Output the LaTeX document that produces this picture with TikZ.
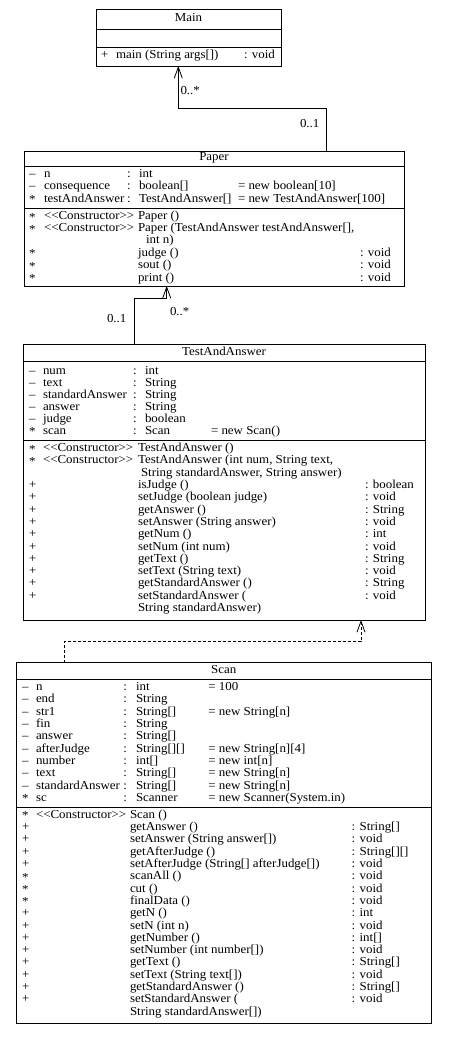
\documentclass[tikz,border=0pt]{standalone}
\usepackage{fontspec}
\setmainfont[FakeStretch=1.06,Ligatures=NoCommon]{Liberation Serif}
\usetikzlibrary{arrows.meta}
\newcounter{tc}
\newcommand\cellt[3]{\stepcounter{tc}\edef\tcname{t\arabic{tc}}\node[txt] (\tcname) at (#1,#2) {#3};}
\newcommand\vpri{–}
\newcommand\vpub{+}
\newcommand\vpkg{\raisebox{-0.25ex}{*}}
\newcommand\ctor{<{}<Constructor>{}>}
\begin{document}
\begin{tikzpicture}[x=1pt,y=-1pt,
  txt/.style={inner sep=0pt,outer sep=0pt,anchor=mid west,font=\fontsize{12.2}{12}\selectfont},
  ttl/.style={txt,anchor=mid},
  cls/.style={draw,line width=0.9pt,inner sep=0pt,outer sep=0pt,anchor=north west},
  sepline/.style={line width=0.9pt},
  assoc/.style={line width=0.8pt,-{Straight Barb[length=11pt,width=8pt,line width=0.8pt]}},
  dep/.style={assoc,dash pattern=on 3pt off 2pt}]
\fill[white] (0,0) rectangle (449,1037);
\useasboundingbox (0,0) rectangle (449,1037);

% ---------- Main ----------
\node[cls,minimum width=185pt,minimum height=57pt] (main) at (96,9) {};
\draw[sepline] (main.west |- 0,29) -- (main.east |- 0,29);
\draw[sepline] (main.west |- 0,47.3) -- (main.east |- 0,47.3);
\node[ttl] (mainT) at (main.north |- 0,19.5) {Main};
\cellt{101}{56}{\vpub}
\cellt{116}{56}{main (String args[])}
\cellt{244}{56}{: void}

% ---------- Paper ----------
\node[cls,minimum width=380pt,minimum height=135pt] (paper) at (24,151) {};
\draw[sepline] (paper.west |- 0,166) -- (paper.east |- 0,166);
\draw[sepline] (paper.west |- 0,208.5) -- (paper.east |- 0,208.5);
\node[ttl] (paperT) at (paper.north |- 0,158.5) {Paper};
\cellt{29}{175}{\vpri}\cellt{44}{175}{n}\cellt{127}{175}{:}\cellt{139}{175}{int}
\cellt{29}{187.5}{\vpri}\cellt{44}{187.5}{consequence}\cellt{127}{187.5}{:}\cellt{139}{187.5}{boolean[]}\cellt{238}{187.5}{= new boolean[10]}
\cellt{29}{200}{\vpkg}\cellt{44}{200}{testAndAnswer}\cellt{127}{200}{:}\cellt{139}{200}{TestAndAnswer[]}\cellt{238}{200}{= new TestAndAnswer[100]}
\cellt{29}{217.5}{\vpkg}\cellt{44}{217.5}{\ctor}\cellt{138}{217.5}{Paper ()}
\cellt{29}{229.5}{\vpkg}\cellt{44}{229.5}{\ctor}\cellt{138}{229.5}{Paper (TestAndAnswer testAndAnswer[],}
\cellt{146}{241.5}{int n)}
\cellt{29}{254}{\vpkg}\cellt{138}{254}{judge ()}\cellt{360}{254}{: void}
\cellt{29}{266.5}{\vpkg}\cellt{138}{266.5}{sout ()}\cellt{360}{266.5}{: void}
\cellt{29}{279}{\vpkg}\cellt{138}{279}{print ()}\cellt{360}{279}{: void}

% ---------- TestAndAnswer ----------
\node[cls,minimum width=402pt,minimum height=276pt] (taa) at (23,344) {};
\draw[sepline] (taa.west |- 0,361.5) -- (taa.east |- 0,361.5);
\draw[sepline] (taa.west |- 0,440.5) -- (taa.east |- 0,440.5);
\node[ttl] (taaT) at (taa.north |- 0,353) {TestAndAnswer};
\cellt{29}{371.7}{\vpri}\cellt{43}{371.7}{num}\cellt{133}{371.7}{:}\cellt{145}{371.7}{int}
\cellt{29}{383.8}{\vpri}\cellt{43}{383.8}{text}\cellt{133}{383.8}{:}\cellt{145}{383.8}{String}
\cellt{29}{395.8}{\vpri}\cellt{43}{395.8}{standardAnswer}\cellt{133}{395.8}{:}\cellt{145}{395.8}{String}
\cellt{29}{407.9}{\vpri}\cellt{43}{407.9}{answer}\cellt{133}{407.9}{:}\cellt{145}{407.9}{String}
\cellt{29}{419.9}{\vpri}\cellt{43}{419.9}{judge}\cellt{133}{419.9}{:}\cellt{145}{419.9}{boolean}
\cellt{29}{432}{\vpkg}\cellt{43}{432}{scan}\cellt{133}{432}{:}\cellt{145}{432}{Scan}\cellt{211}{432}{= new Scan()}
\cellt{29}{449.3}{\vpkg}\cellt{43}{449.3}{\ctor}\cellt{138}{449.3}{TestAndAnswer ()}
\cellt{29}{461.6}{\vpkg}\cellt{43}{461.6}{\ctor}\cellt{138}{461.6}{TestAndAnswer (int num, String text,}
\cellt{141}{473.9}{String standardAnswer, String answer)}
\cellt{29}{486.2}{\vpub}\cellt{138}{486.2}{isJudge ()}\cellt{365}{486.2}{: boolean}
\cellt{29}{498.5}{\vpub}\cellt{138}{498.5}{setJudge (boolean judge)}\cellt{365}{498.5}{: void}
\cellt{29}{510.8}{\vpub}\cellt{138}{510.8}{getAnswer ()}\cellt{365}{510.8}{: String}
\cellt{29}{523.1}{\vpub}\cellt{138}{523.1}{setAnswer (String answer)}\cellt{365}{523.1}{: void}
\cellt{29}{535.4}{\vpub}\cellt{138}{535.4}{getNum ()}\cellt{365}{535.4}{: int}
\cellt{29}{547.7}{\vpub}\cellt{138}{547.7}{setNum (int num)}\cellt{365}{547.7}{: void}
\cellt{29}{560}{\vpub}\cellt{138}{560}{getText ()}\cellt{365}{560}{: String}
\cellt{29}{572.3}{\vpub}\cellt{138}{572.3}{setText (String text)}\cellt{365}{572.3}{: void}
\cellt{29}{584.6}{\vpub}\cellt{138}{584.6}{getStandardAnswer ()}\cellt{365}{584.6}{: String}
\cellt{29}{596.9}{\vpub}\cellt{138}{596.9}{setStandardAnswer (}\cellt{365}{596.9}{: void}
\cellt{138}{609.2}{String standardAnswer)}

% ---------- Scan ----------
\node[cls,minimum width=415.5pt,minimum height=361pt] (scan) at (16,662.5) {};
\draw[sepline] (scan.west |- 0,679) -- (scan.east |- 0,679);
\draw[sepline] (scan.west |- 0,807.5) -- (scan.east |- 0,807.5);
\node[ttl] (scanT) at (scan.north |- 0,671) {Scan};
\cellt{22}{688.3}{\vpri}\cellt{36}{688.3}{n}\cellt{123.3}{688.3}{:}\cellt{136}{688.3}{int}\cellt{208.3}{688.3}{= 100}
\cellt{22}{700.6}{\vpri}\cellt{36}{700.6}{end}\cellt{123.3}{700.6}{:}\cellt{136}{700.6}{String}
\cellt{22}{712.9}{\vpri}\cellt{36}{712.9}{str1}\cellt{123.3}{712.9}{:}\cellt{136}{712.9}{String[]}\cellt{208.3}{712.9}{= new String[n]}
\cellt{22}{725.2}{\vpri}\cellt{36}{725.2}{fin}\cellt{123.3}{725.2}{:}\cellt{136}{725.2}{String}
\cellt{22}{737.5}{\vpri}\cellt{36}{737.5}{answer}\cellt{123.3}{737.5}{:}\cellt{136}{737.5}{String[]}
\cellt{22}{749.8}{\vpri}\cellt{36}{749.8}{afterJudge}\cellt{123.3}{749.8}{:}\cellt{136}{749.8}{String[][]}\cellt{208.3}{749.8}{= new String[n][4]}
\cellt{22}{762.1}{\vpri}\cellt{36}{762.1}{number}\cellt{123.3}{762.1}{:}\cellt{136}{762.1}{int[]}\cellt{208.3}{762.1}{= new int[n]}
\cellt{22}{774.4}{\vpri}\cellt{36}{774.4}{text}\cellt{123.3}{774.4}{:}\cellt{136}{774.4}{String[]}\cellt{208.3}{774.4}{= new String[n]}
\cellt{22}{786.7}{\vpri}\cellt{36}{786.7}{standardAnswer}\cellt{123.3}{786.7}{:}\cellt{136}{786.7}{String[]}\cellt{208.3}{786.7}{= new String[n]}
\cellt{22}{799}{\vpkg}\cellt{36}{799}{sc}\cellt{123.3}{799}{:}\cellt{136}{799}{Scanner}\cellt{208.3}{799}{= new Scanner(System.in)}
\cellt{22}{816}{\vpkg}\cellt{36}{816}{\ctor}\cellt{130}{816}{Scan ()}
\cellt{22}{828.3}{\vpub}\cellt{130}{828.3}{getAnswer ()}\cellt{351.7}{828.3}{: String[]}
\cellt{22}{840.6}{\vpub}\cellt{130}{840.6}{setAnswer (String answer[])}\cellt{351.7}{840.6}{: void}
\cellt{22}{852.9}{\vpub}\cellt{130}{852.9}{getAfterJudge ()}\cellt{351.7}{852.9}{: String[][]}
\cellt{22}{865.2}{\vpub}\cellt{130}{865.2}{setAfterJudge (String[] afterJudge[])}\cellt{351.7}{865.2}{: void}
\cellt{22}{877.5}{\vpkg}\cellt{130}{877.5}{scanAll ()}\cellt{351.7}{877.5}{: void}
\cellt{22}{889.8}{\vpkg}\cellt{130}{889.8}{cut ()}\cellt{351.7}{889.8}{: void}
\cellt{22}{902.1}{\vpkg}\cellt{130}{902.1}{finalData ()}\cellt{351.7}{902.1}{: void}
\cellt{22}{914.4}{\vpub}\cellt{130}{914.4}{getN ()}\cellt{351.7}{914.4}{: int}
\cellt{22}{926.7}{\vpub}\cellt{130}{926.7}{setN (int n)}\cellt{351.7}{926.7}{: void}
\cellt{22}{939}{\vpub}\cellt{130}{939}{getNumber ()}\cellt{351.7}{939}{: int[]}
\cellt{22}{951.3}{\vpub}\cellt{130}{951.3}{setNumber (int number[])}\cellt{351.7}{951.3}{: void}
\cellt{22}{963.6}{\vpub}\cellt{130}{963.6}{getText ()}\cellt{351.7}{963.6}{: String[]}
\cellt{22}{975.9}{\vpub}\cellt{130}{975.9}{setText (String text[])}\cellt{351.7}{975.9}{: void}
\cellt{22}{988.2}{\vpub}\cellt{130}{988.2}{getStandardAnswer ()}\cellt{351.7}{988.2}{: String[]}
\cellt{22}{1000.5}{\vpub}\cellt{130}{1000.5}{setStandardAnswer (}\cellt{351.7}{1000.5}{: void}
\cellt{130}{1012.8}{String standardAnswer[])}

% ---------- connectors ----------
\coordinate (pm1) at (326.7,108.3);
\coordinate (pm2) at (178.3,108.3);
\draw[assoc] (paper.north -| pm1) -- (pm1) -- (pm2) -- (main.south -| pm2);
\node[txt] (m1) at (180.5,92.7) {0..*};
\node[txt] (m2) at (300,125) {0..1};

\coordinate (tp1) at (134.3,298.3);
\coordinate (tp2) at (166.7,298.3);
\draw[assoc] (taa.north -| tp1) -- (tp1) -- (tp2) -- (paper.south -| tp2);
\node[txt] (m3) at (107,320) {0..1};
\node[txt] (m4) at (170,313) {0..*};

\coordinate (st1) at (64,641.7);
\coordinate (st2) at (361,641.7);
\draw[dep] (scan.north -| st1) -- (st1) -- (st2) -- (taa.south -| st2);
\end{tikzpicture}
\end{document}
